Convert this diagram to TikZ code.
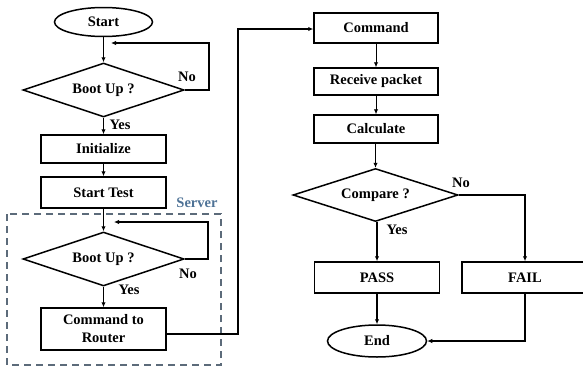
\documentclass[tikz,border=0pt]{standalone}
\usepackage{fontspec}
\setmainfont{Liberation Serif}
\usetikzlibrary{shapes.geometric,arrows.meta}
\definecolor{serverblue}{HTML}{4E7296}
\definecolor{framegray}{HTML}{5C6B7A}
\begin{document}
\begin{tikzpicture}[x=1pt,y=-1pt,
  every node/.style={font=\fontsize{14.5}{16}\selectfont\bfseries},
  procbox/.style={draw,line width=1.5pt,rectangle,inner sep=0pt,anchor=center},
  termnode/.style={draw,line width=1.5pt,ellipse,inner sep=0pt,minimum width=98pt,minimum height=29pt},
  decide/.style={draw,line width=1.5pt,diamond,aspect=3,inner sep=0pt,minimum width=161pt,minimum height=54pt},
  flow/.style={line width=1.3pt,-{Latex[length=5pt,width=4.5pt]}},
  thinflow/.style={line width=0.9pt,-{Latex[length=5pt,width=4.5pt]}},
  lbl/.style={inner sep=0pt}]
\useasboundingbox (0,0) rectangle (583,367);

% left column
\node[termnode] (start) at (103.5,22) {Start};
\node[decide] (boot1) at (103.5,90) {Boot Up ?};
\node[procbox,minimum width=125pt,minimum height=28pt] (init) at (103.5,149) {Initialize};
\node[procbox,minimum width=125pt,minimum height=31pt] (test) at (103.5,192.5) {Start Test};
\node[decide] (boot2) at (103.5,259) {Boot Up ?};
\node[procbox,minimum width=125pt,minimum height=42pt,align=center] (router) at (103.5,329) {Command to\\[2pt]Router};

% server group
\draw[framegray,line width=1.3pt,dash pattern=on 7pt off 5pt] (7,214) rectangle (221,365);
\node[lbl,text=serverblue] (server) at (197,203) {Server};

% right column
\node[procbox,minimum width=124pt,minimum height=30pt] (cmd) at (376,28) {Command};
\node[procbox,minimum width=124pt,minimum height=27pt] (recv) at (376,81.5) {Receive packet};
\node[procbox,minimum width=124pt,minimum height=28pt] (calc) at (376,129) {Calculate};
\node[decide,minimum width=165pt,minimum height=53pt] (cmp) at (375.5,195) {Compare ?};
\node[procbox,minimum width=125pt,minimum height=31pt] (pass) at (377,277.5) {PASS};
\node[procbox,minimum width=126pt,minimum height=31pt] (fail) at (525,277.5) {FAIL};
\node[termnode,minimum width=99pt,minimum height=32pt] (end) at (377,341) {End};

% labels
\node[lbl] (no1) at (187,77) {No};
\node[lbl] (yes1) at (120,125) {Yes};
\node[lbl] (no2) at (188,274) {No};
\node[lbl] (yes2) at (129,290) {Yes};
\node[lbl] (no3) at (461,183) {No};
\node[lbl] (yes3) at (397,230) {Yes};

% loop return points
\coordinate (loop1) at (111,43);
\coordinate (loop2) at (114,222);
\coordinate (bridge) at (238,334);

% connectors, left column
\draw[flow] (start) -- (boot1);
\draw[flow] (boot1.east) -- (209,90) -- (209,43) -- (loop1);
\draw[flow] (boot1) -- (init);
\draw[flow] (init) -- (test);
\draw[flow] (test) -- (boot2);
\draw[flow] (boot2.east) -- (208,259) -- (208,222) -- (loop2);
\draw[flow] (boot2) -- (router);

% connector to the router side
\draw[thinflow,line width=1.1pt] (router.east |- bridge) -- (bridge) -- (238,29) -- (cmd.west |- 0,29);

% connectors, right column
\draw[thinflow] (cmd) -- (recv);
\draw[thinflow] (recv) -- (calc);
\draw[thinflow] (calc.south -| cmp.north) -- (cmp);
\draw[flow] (cmp.south -| pass) -- (pass);
\draw[flow] (cmp.east) -| (fail.north);
\draw[flow] (pass) -- (end);
\draw[flow] (fail.south) |- (end.east);
\end{tikzpicture}
\end{document}
